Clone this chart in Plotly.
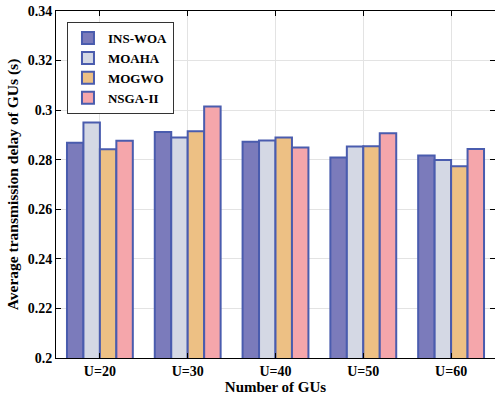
import plotly.graph_objects as go

categories = ["U=20", "U=30", "U=40", "U=50", "U=60"]
series_names = ["INS-WOA", "MOAHA", "MOGWO", "NSGA-II"]
ins_woa = [0.2868, 0.2912, 0.2872, 0.2809, 0.2817]
moaha = [0.2950, 0.2890, 0.2878, 0.2853, 0.2799]
mogwo = [0.2842, 0.2915, 0.2890, 0.2854, 0.2774]
nsga2 = [0.2877, 0.3015, 0.2849, 0.2907, 0.2843]
y_ticks = [0.2, 0.22, 0.24, 0.26, 0.28, 0.3, 0.32, 0.34]
y_tick_labels = ["0.2", "0.22", "0.24", "0.26", "0.28", "0.3", "0.32", "0.34"]

colors = ["#7b7bbb", "#d4d8e4", "#edc084", "#f5a6ab"]
edge = "#4a5cae"
font_family = "Liberation Serif, Times New Roman, serif"

fig = go.Figure()
for name, vals, c in zip(series_names, [ins_woa, moaha, mogwo, nsga2], colors):
    fig.add_trace(go.Bar(
        x=categories, y=vals, name=name,
        marker=dict(color=c, line=dict(color=edge, width=2)),
    ))

fig.update_layout(
    width=495, height=395,
    margin=dict(l=56, r=0, t=11, b=37),
    barmode="group", bargap=0.25, bargroupgap=0,
    plot_bgcolor="white", paper_bgcolor="white",
    font=dict(family=font_family, size=13, color="black"),
    legend=dict(
        x=0.025, y=0.968, xanchor="left", yanchor="top",
        bgcolor="white", bordercolor="#333333", borderwidth=1,
        font=dict(family=font_family, size=13, color="black", weight="bold"),
        tracegroupgap=0, itemwidth=30,
    ),
    showlegend=True,
)
fig.update_xaxes(
    range=[-0.5, 4.5],
    showline=True, linecolor="black", linewidth=1, mirror="ticks",
    ticks="inside", ticklen=5, tickcolor="black",
    showgrid=True, gridcolor="#e3e3e3", gridwidth=1,
    tickfont=dict(family=font_family, size=14, color="black", weight="bold"),
    title=dict(text="Number of GUs", standoff=3,
               font=dict(family=font_family, size=15, color="black", weight="bold")),
)
fig.update_yaxes(
    range=[0.2, 0.34],
    tickvals=y_ticks, ticktext=y_tick_labels,
    showline=True, linecolor="black", linewidth=1, mirror="ticks",
    ticks="inside", ticklen=5, tickcolor="black",
    showgrid=True, gridcolor="#e3e3e3", gridwidth=1, zeroline=False,
    tickfont=dict(family=font_family, size=14, color="black", weight="bold"),
    title=dict(text="Average transmission delay of GUs (s)", standoff=5,
               font=dict(family=font_family, size=15.5, color="black", weight="bold")),
)

fig.write_html("out.html")
